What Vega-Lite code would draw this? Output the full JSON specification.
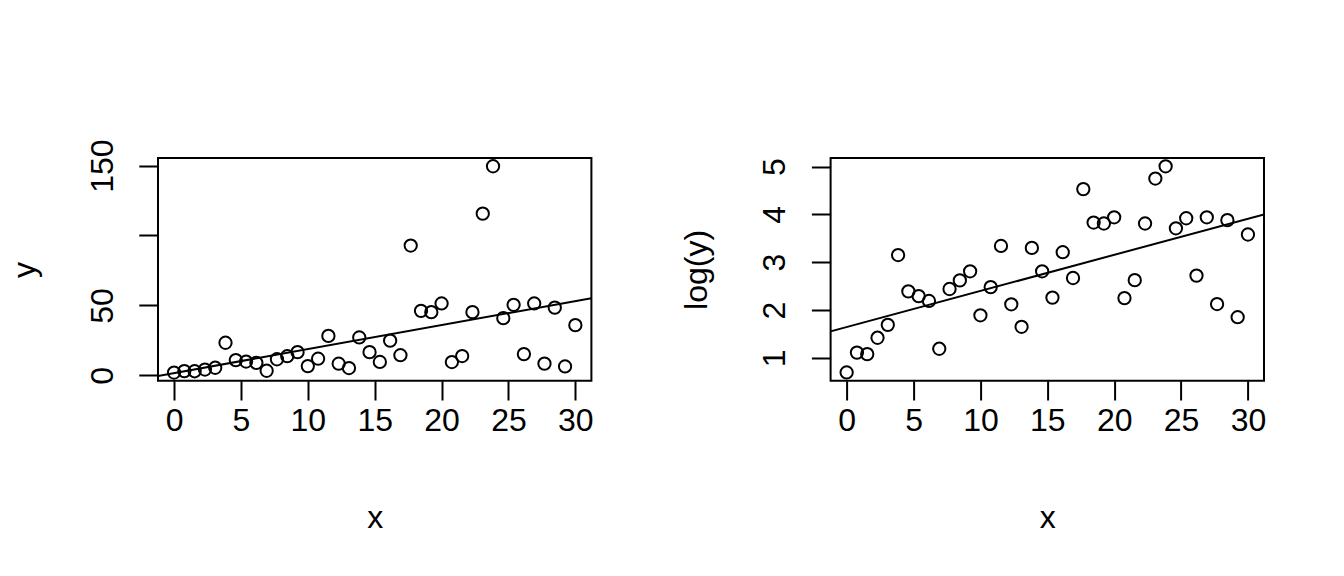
{
  "$schema": "https://vega.github.io/schema/vega-lite/v6.json",
  "background": "white",
  "padding": {"left": 7, "top": 137, "right": 0, "bottom": 0},
  "bounds": "flush",
  "spacing": 238.6,
  "data": {"values": [
    {"x": 0, "y": 2.00, "logy": 0.694},
    {"x": 0.769, "y": 3.03, "logy": 1.11},
    {"x": 1.538, "y": 2.94, "logy": 1.077},
    {"x": 2.308, "y": 4.14, "logy": 1.42},
    {"x": 3.077, "y": 5.42, "logy": 1.69},
    {"x": 3.846, "y": 23.3, "logy": 3.15},
    {"x": 4.615, "y": 10.9, "logy": 2.39},
    {"x": 5.385, "y": 9.87, "logy": 2.29},
    {"x": 6.154, "y": 8.94, "logy": 2.19},
    {"x": 6.923, "y": 3.29, "logy": 1.19},
    {"x": 7.692, "y": 11.5, "logy": 2.44},
    {"x": 8.462, "y": 13.7, "logy": 2.62},
    {"x": 9.231, "y": 16.6, "logy": 2.81},
    {"x": 10.0, "y": 6.62, "logy": 1.89},
    {"x": 10.769, "y": 11.9, "logy": 2.48},
    {"x": 11.538, "y": 28.2, "logy": 3.34},
    {"x": 12.308, "y": 8.33, "logy": 2.12},
    {"x": 13.077, "y": 5.21, "logy": 1.65},
    {"x": 13.846, "y": 27.1, "logy": 3.30},
    {"x": 14.615, "y": 16.6, "logy": 2.81},
    {"x": 15.385, "y": 9.58, "logy": 2.26},
    {"x": 16.154, "y": 24.8, "logy": 3.21},
    {"x": 16.923, "y": 14.4, "logy": 2.67},
    {"x": 17.692, "y": 92.8, "logy": 4.53},
    {"x": 18.462, "y": 46.1, "logy": 3.83},
    {"x": 19.231, "y": 45.2, "logy": 3.81},
    {"x": 20.0, "y": 51.4, "logy": 3.94},
    {"x": 20.769, "y": 9.49, "logy": 2.25},
    {"x": 21.538, "y": 13.8, "logy": 2.625},
    {"x": 22.308, "y": 45.2, "logy": 3.81},
    {"x": 23.077, "y": 115.6, "logy": 4.75},
    {"x": 23.846, "y": 149.5, "logy": 5.007},
    {"x": 24.615, "y": 40.9, "logy": 3.71},
    {"x": 25.385, "y": 50.4, "logy": 3.92},
    {"x": 26.154, "y": 15.2, "logy": 2.72},
    {"x": 26.923, "y": 51.4, "logy": 3.94},
    {"x": 27.692, "y": 8.37, "logy": 2.125},
    {"x": 28.462, "y": 48.4, "logy": 3.88},
    {"x": 29.231, "y": 6.36, "logy": 1.85},
    {"x": 30.0, "y": 35.9, "logy": 3.58}
  ]},
  "hconcat": [
    {
      "width": 433.4,
      "height": 222.8,
      "layer": [
        {
          "mark": {"type": "point", "filled": false, "color": "black", "size": 151, "strokeWidth": 2, "opacity": 1},
          "encoding": {
            "x": {"field": "x", "type": "quantitative",
                  "scale": {"domain": [-1.2, 31.2], "nice": false, "zero": false},
                  "axis": {"title": "x", "values": [0, 5, 10, 15, 20, 25, 30]}},
            "y": {"field": "y", "type": "quantitative",
                  "scale": {"domain": [-3.9, 155.4], "nice": false, "zero": false},
                  "axis": {"title": "y", "values": [0, 50, 100, 150],
                           "labelExpr": "datum.value == 100 ? '' : datum.label"}}
          }
        },
        {
          "transform": [{"regression": "y", "on": "x", "extent": [-1.2, 31.2]}],
          "mark": {"type": "line", "color": "black", "strokeWidth": 2, "clip": true},
          "encoding": {
            "x": {"field": "x", "type": "quantitative", "scale": {"domain": [-1.2, 31.2], "nice": false, "zero": false}},
            "y": {"field": "y", "type": "quantitative", "scale": {"domain": [-3.9, 155.4], "nice": false, "zero": false}}
          }
        }
      ]
    },
    {
      "width": 433.4,
      "height": 222.8,
      "layer": [
        {
          "mark": {"type": "point", "filled": false, "color": "black", "size": 151, "strokeWidth": 2, "opacity": 1},
          "encoding": {
            "x": {"field": "x", "type": "quantitative",
                  "scale": {"domain": [-1.2, 31.2], "nice": false, "zero": false},
                  "axis": {"title": "x", "values": [0, 5, 10, 15, 20, 25, 30]}},
            "y": {"field": "logy", "type": "quantitative",
                  "scale": {"domain": [0.52, 5.18], "nice": false, "zero": false},
                  "axis": {"title": "log(y)", "values": [1, 2, 3, 4, 5]}}
          }
        },
        {
          "transform": [{"regression": "logy", "on": "x", "extent": [-1.2, 31.2]}],
          "mark": {"type": "line", "color": "black", "strokeWidth": 2, "clip": true},
          "encoding": {
            "x": {"field": "x", "type": "quantitative", "scale": {"domain": [-1.2, 31.2], "nice": false, "zero": false}},
            "y": {"field": "logy", "type": "quantitative", "scale": {"domain": [0.52, 5.18], "nice": false, "zero": false}}
          }
        }
      ]
    }
  ],
  "config": {
    "font": "Liberation Sans",
    "view": {"stroke": "black", "strokeWidth": 2},
    "axis": {
      "grid": false,
      "domain": false,
      "ticks": true,
      "tickColor": "black",
      "tickWidth": 2,
      "tickSize": 19.2,
      "labelFont": "Liberation Sans",
      "labelFontSize": 32,
      "labelColor": "black",
      "labelOverlap": false,
      "labelFlush": false,
      "titleFont": "Liberation Sans",
      "titleFontSize": 32,
      "titleFontWeight": "normal",
      "titleColor": "black"
    },
    "axisBottom": {
      "labelBaseline": "alphabetic",
      "labelAlign": "center",
      "labelPadding": 30.1,
      "titleBaseline": "alphabetic",
      "titleY": 146.5
    },
    "axisLeft": {
      "labelAngle": 270,
      "labelAlign": "center",
      "labelBaseline": "alphabetic",
      "labelPadding": 26.8,
      "titleAngle": 270,
      "titleBaseline": "alphabetic",
      "titleX": -124
    }
  }
}
